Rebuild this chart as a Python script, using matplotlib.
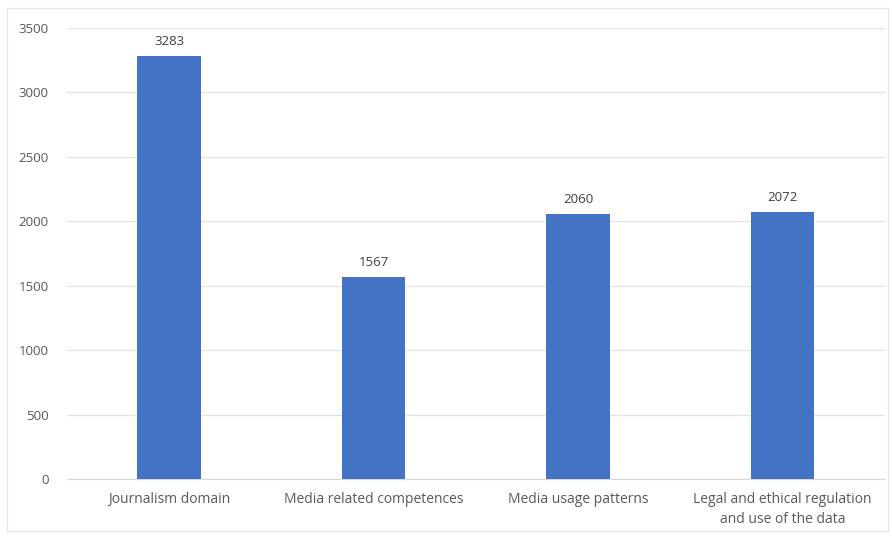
import matplotlib.pyplot as plt
import numpy as np

categories = ["Journalism domain", "Media related competences", "Media usage patterns",
              "Legal and ethical regulation\nand use of the data"]
counts = [3283, 1567, 2060, 2072]
yticks = [0, 500, 1000, 1500, 2000, 2500, 3000, 3500]

plt.rcParams['font.family'] = ['Open Sans', 'DejaVu Sans']
txt = '#595959'

fig = plt.figure(figsize=(8.92, 5.39), dpi=100)
ax = fig.add_axes([0.075, 0.111, 0.917, 0.837])

x = np.arange(len(categories))
bars = ax.bar(x, counts, width=0.31, color='#4472C4', zorder=3)
for b, v in zip(bars, counts):
    ax.text(b.get_x() + b.get_width() / 2, v + 60, str(v), ha='center', va='bottom',
            fontsize=9.5, color='#404040')

ax.set_xlim(-0.5, len(categories) - 0.5)
ax.set_ylim(0, 3500)
ax.set_yticks(yticks)
ax.set_xticks(x)
ax.set_xticklabels(categories, fontsize=10, color=txt, linespacing=1.45)
ax.tick_params(axis='y', labelsize=9.5, labelcolor=txt, length=0, pad=13)
ax.tick_params(axis='x', length=0, pad=9)
ax.yaxis.grid(True, color='#E3E3E3', linewidth=0.9, zorder=0)
for s in ['top', 'right', 'left']:
    ax.spines[s].set_visible(False)
ax.spines['bottom'].set_color('#D9D9D9')

# thin frame around the whole chart
fig.patches.append(plt.Rectangle((0.008, 0.015), 0.988, 0.97, transform=fig.transFigure,
                                 fill=False, edgecolor='#E6E6E6', linewidth=0.8))

fig.savefig('out.png', dpi=100)
